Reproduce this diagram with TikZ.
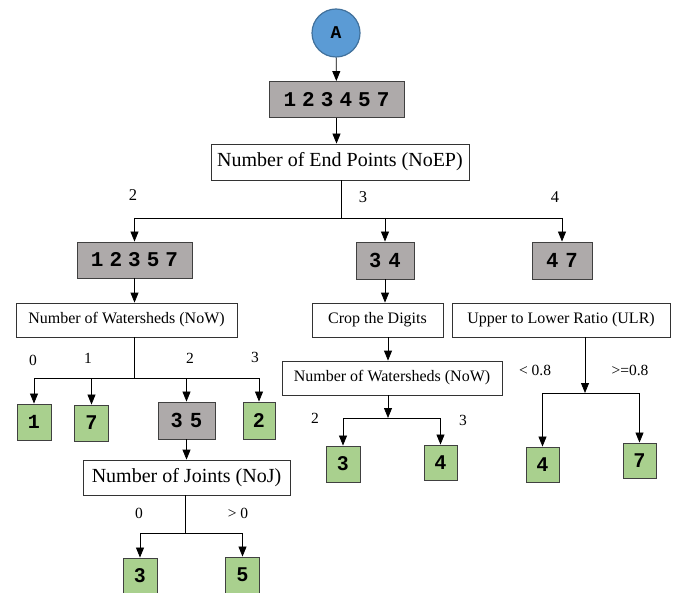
\documentclass[tikz,border=0pt]{standalone}
\usepackage{fontspec}
\setmainfont{Liberation Serif}
\newfontfamily\digmono[WordSpace=0.48]{Liberation Mono}
\newfontfamily\digsans[WordSpace=1.4]{Liberation Sans}
\usetikzlibrary{arrows.meta}
\definecolor{nodeblue}{RGB}{91,155,213}
\definecolor{nodeedge}{RGB}{65,113,156}
\definecolor{setgray}{RGB}{174,170,170}
\definecolor{leafgreen}{RGB}{169,208,142}

\begin{document}
\begin{tikzpicture}[x=1pt, y=-1pt,
    start/.style={circle, draw=nodeedge, line width=1.2pt, fill=nodeblue, minimum size=48pt, inner sep=0pt, font=\fontsize{18}{18}\digmono\bfseries},
    setbox/.style={rectangle, draw=black!75, line width=0.9pt, fill=setgray, minimum height=36pt, inner sep=0pt},
    monoset/.style={setbox, font=\fontsize{21}{21}\digmono\bfseries},
    sansset/.style={setbox, font=\fontsize{20.5}{20.5}\digsans\bfseries},
    leaf/.style={rectangle, draw=black!75, line width=0.9pt, fill=leafgreen, minimum width=34pt, minimum height=36pt, inner sep=0pt, font=\fontsize{20}{20}\digsans\bfseries},
    test/.style={rectangle, draw=black!80, line width=0.8pt, fill=white, minimum height=34pt, inner sep=0pt, font=\fontsize{16}{16}\selectfont},
    bigtest/.style={test, minimum height=35pt, font=\fontsize{20}{20}\selectfont},
    lbl/.style={inner sep=0pt, font=\fontsize{15.5}{15.5}\selectfont},
    arr/.style={-{Triangle[width=8pt,length=10pt]}, line width=0.8pt},
    bus/.style={line width=0.8pt}
]
    \useasboundingbox (0,0) rectangle (679,593);

    % root and first test
    \node[start] (root) at (336,33) {A};
    \node[monoset, minimum width=135pt] (all) at (336.5,99.5) {1 2 3 4 5 7};
    \node[bigtest, minimum width=258pt, minimum height=36pt] (noep) at (340,162) {Number of End Points (NoEP)};

    \draw[arr] (root) -- (all);
    \draw[arr] (all) -- (all |- noep.north);

    % NoEP branches
    \node[monoset, minimum width=115pt] (set12357) at (134.5,260) {1 2 3 5 7};
    \node[sansset, minimum width=58pt, minimum height=37pt] (set34) at (385,260.5) {3 4};
    \node[sansset, minimum width=60pt, minimum height=37pt] (set47) at (562,260.5) {4 7};
    \coordinate (busA) at (341,218);

    \draw[bus] (noep.south -| busA) -- (busA);
    \draw[bus] (set12357 |- busA) -- (set47 |- busA);
    \draw[arr] (set12357 |- busA) -- (set12357.north);
    \draw[arr] (set34 |- busA) -- (set34.north);
    \draw[arr] (set47 |- busA) -- (set47.north);

    \node[lbl, font=\fontsize{16.5}{16.5}\selectfont] (eA2) at (133,195) {2};
    \node[lbl, font=\fontsize{16.5}{16.5}\selectfont] (eA3) at (363,197) {3};
    \node[lbl, font=\fontsize{16.5}{16.5}\selectfont] (eA4) at (555,197) {4};

    % second level tests
    \node[test, minimum width=221pt] (now1) at (126.5,320) {Number of Watersheds (NoW)};
    \node[test, minimum width=131pt] (crop) at (377.5,320) {Crop the Digits};
    \node[test, minimum width=218pt] (ulr) at (561,320) {Upper to Lower Ratio (ULR)};

    \draw[arr] (set12357.south) -- (set12357.south |- now1.north);
    \draw[arr] (set34.south) -- (set34.south |- crop.north);

    % NoW (left) branches
    \node[leaf] (leaf1) at (34,422) {\digmono\bfseries 1};
    \node[leaf] (leaf7) at (91.5,423) {7};
    \node[sansset, minimum width=57pt, minimum height=37pt] (set35) at (186.5,420.5) {3 5};
    \node[leaf, minimum width=32pt, minimum height=37pt] (leaf2) at (259,420.5) {2};
    \coordinate (busB) at (134,378);

    \draw[bus] (now1.south -| busB) -- (busB);
    \draw[bus] (leaf1 |- busB) -- (leaf2 |- busB);
    \draw[arr] (leaf1 |- busB) -- (leaf1.north);
    \draw[arr] (leaf7 |- busB) -- (leaf7.north);
    \draw[arr] (set35 |- busB) -- (set35.north);
    \draw[arr] (leaf2 |- busB) -- (leaf2.north);

    \node[lbl] (eB0) at (33,360) {0};
    \node[lbl] (eB1) at (88,358) {1};
    \node[lbl] (eB2) at (190,358) {2};
    \node[lbl] (eB3) at (255,357) {3};

    % NoJ
    \node[bigtest, minimum width=207pt] (noj) at (186.5,477.5) {Number of Joints (NoJ)};
    \node[leaf] (leaf3b) at (140,576) {3};
    \node[leaf] (leaf5b) at (242.5,575) {5};
    \coordinate (busC) at (185,533);

    \draw[arr] (set35.south) -- (noj.north);
    \draw[bus] (noj.south -| busC) -- (busC);
    \draw[bus] (leaf3b |- busC) -- (leaf5b |- busC);
    \draw[arr] (leaf3b |- busC) -- (leaf3b.north);
    \draw[arr] (leaf5b |- busC) -- (leaf5b.north);

    \node[lbl] (eC0) at (139,513) {0};
    \node[lbl] (eC1) at (238,513) {> 0};

    % NoW (middle) branches
    \node[test, minimum width=220pt] (now2) at (392,378) {Number of Watersheds (NoW)};
    \node[leaf] (leaf3m) at (343,464) {3};
    \node[leaf, minimum width=33pt, minimum height=35pt] (leaf4m) at (440.5,462.5) {4};
    \coordinate (busD) at (388,418);

    \draw[arr] (crop.south -| busD) -- (now2.north -| busD);
    \draw[arr] (now2.south -| busD) -- (busD);
    \draw[bus] (leaf3m |- busD) -- (leaf4m |- busD);
    \draw[arr] (leaf3m |- busD) -- (leaf3m.north);
    \draw[arr] (leaf4m |- busD) -- (leaf4m.north);

    \node[lbl] (eD2) at (315,418) {2};
    \node[lbl] (eD3) at (463,420) {3};

    % ULR branches
    \node[leaf, minimum width=33pt, minimum height=35pt] (leaf4r) at (542.5,464.5) {4};
    \node[leaf, minimum width=33pt, minimum height=35pt] (leaf7r) at (639.5,460.5) {7};
    \coordinate (busE) at (585,393);

    \draw[arr] (ulr.south -| busE) -- (busE);
    \draw[bus] (leaf4r |- busE) -- (leaf7r |- busE);
    \draw[arr] (leaf4r |- busE) -- (leaf4r.north);
    \draw[arr] (leaf7r |- busE) -- (leaf7r.north);

    \node[lbl] (eE1) at (535,370) {< 0.8};
    \node[lbl] (eE2) at (630,370) {>=0.8};
\end{tikzpicture}
\end{document}
